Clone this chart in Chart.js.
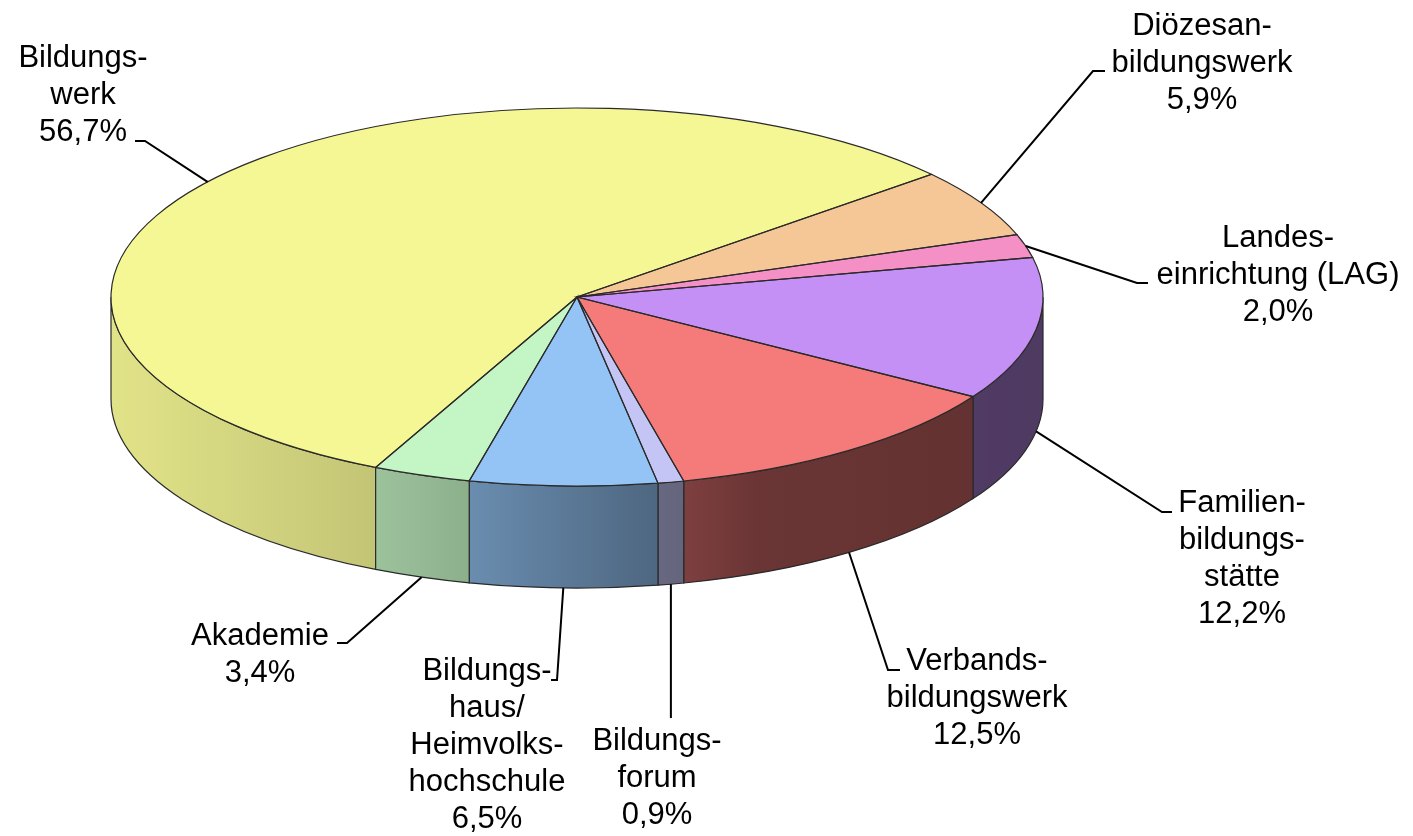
<!DOCTYPE html>
<html><head><meta charset="utf-8">
<script src="https://cdn.jsdelivr.net/npm/chart.js@4/dist/chart.umd.min.js"></script>
<style>html,body{margin:0;padding:0;background:#fff;} canvas{display:block;}</style>
</head><body>
<canvas id="c" width="1413" height="836"></canvas>
<script>
// ---- data ----
const categories = [
  ["Bildungs-","werk"],
  ["Diözesan-","bildungswerk"],
  ["Landes-","einrichtung (LAG)"],
  ["Familien-","bildungs-","stätte"],
  ["Verbands-","bildungswerk"],
  ["Bildungs-","forum"],
  ["Bildungs-","haus/","Heimvolks-","hochschule"],
  ["Akademie"]
];
const shares = [56.7, 5.9, 2.0, 12.2, 12.5, 0.9, 6.5, 3.4];
const sliceColors = ['#F5F794','#F5C696','#F590C6','#C490F5','#F57A7A','#C4C4F5','#94C4F5','#C4F5C4'];

// ---- layout / style ----
const CX = 577, CY = 297, RX = 466, RY = 189, DEPTH = 102;
const FONT = '31px "Liberation Sans", Arial, sans-serif';
const LINE_H = 37;
const labelLayout = [
  {tx:83,   ty:67,  ex:145,  ey:141, hx:135},
  {tx:1202, ty:35,  ex:1093, ey:71,  hx:1105},
  {tx:1278, ty:247, ex:1137, ey:283, hx:1148},
  {tx:1242, ty:512, ex:1162, ey:512, hx:1172},
  {tx:977,  ty:670, ex:888,  ey:670, hx:900},
  {tx:657,  ty:750, ex:null, ey:718, hx:null},
  {tx:487,  ty:680, ex:557,  ey:680, hx:551},
  {tx:260,  ty:645, ex:347,  ey:643, hx:337}
];
const shadeStops = [[0,0.92],[0.28,0.80],[0.30,0.78],[0.38,0.72],[0.58,0.53],[0.62,0.51],[0.70,0.43],[1,0.40]];

function shadeFactor(t){
  t = Math.max(0, Math.min(1, t));
  for (let i = 1; i < shadeStops.length; i++) {
    const [t1,f1] = shadeStops[i-1], [t2,f2] = shadeStops[i];
    if (t <= t2) return f1 + (f2-f1)*(t-t1)/(t2-t1);
  }
  return shadeStops[shadeStops.length-1][1];
}
function shade(hex, f){
  const n = parseInt(hex.slice(1),16);
  const r = Math.round(((n>>16)&255)*f), g = Math.round(((n>>8)&255)*f), b = Math.round((n&255)*f);
  return `rgb(${r},${g},${b})`;
}
function fmt(v){ return v.toFixed(1).replace('.', ',') + '%'; }

const pie3d = {
  id: 'pie3d',
  beforeDatasetsDraw(chart){
    const ctx = chart.ctx;
    const arcs = chart.getDatasetMeta(0).data;
    const colors = chart.data.datasets[0].backgroundColor;
    ctx.save();
    // side walls
    arcs.forEach((arc, i) => {
      const s = arc.startAngle, e = arc.endAngle;
      for (let k = -1; k <= 2; k++) {
        const lo = Math.max(s, 2*Math.PI*k), hi = Math.min(e, 2*Math.PI*k + Math.PI);
        if (hi <= lo) continue;
        const xl = CX + RX*Math.cos(hi), xr = CX + RX*Math.cos(lo);
        const grad = ctx.createLinearGradient(xl, 0, xr, 0);
        const N = 8;
        for (let j = 0; j <= N; j++) {
          const x = xl + (xr-xl)*j/N;
          grad.addColorStop(j/N, shade(colors[i], shadeFactor((x-(CX-RX))/(2*RX))));
        }
        ctx.beginPath();
        ctx.ellipse(CX, CY, RX, RY, 0, lo, hi, false);
        ctx.lineTo(CX + RX*Math.cos(hi), CY + RY*Math.sin(hi) + DEPTH);
        ctx.ellipse(CX, CY + DEPTH, RX, RY, 0, hi, lo, true);
        ctx.closePath();
        ctx.fillStyle = grad;
        ctx.fill();
        ctx.lineWidth = 1.2;
        ctx.strokeStyle = '#2a2a2a';
        ctx.stroke();
      }
    });
    // top faces via the library's arc elements, squashed into an ellipse
    arcs.forEach(arc => {
      const R = arc.outerRadius;
      ctx.save();
      ctx.translate(CX, CY);
      ctx.scale(RX/R, RY/R);
      ctx.translate(-arc.x, -arc.y);
      arc.draw(ctx);
      ctx.restore();
    });
    arcs.forEach(arc => {
      ctx.beginPath();
      ctx.moveTo(CX, CY);
      ctx.ellipse(CX, CY, RX, RY, 0, arc.startAngle, arc.endAngle, false);
      ctx.closePath();
      ctx.lineWidth = 1.2;
      ctx.strokeStyle = '#2a2a2a';
      ctx.stroke();
    });
    // labels + leader lines
    ctx.font = FONT;
    ctx.fillStyle = '#000';
    ctx.textAlign = 'center';
    ctx.textBaseline = 'alphabetic';
    arcs.forEach((arc, i) => {
      const mid = (arc.startAngle + arc.endAngle)/2;
      const front = Math.sin(mid) > 0;
      const ax = CX + RX*Math.cos(mid);
      const ay = CY + RY*Math.sin(mid) + (front ? DEPTH : 0);
      const L = labelLayout[i];
      const ex = L.ex === null ? ax : L.ex;
      const hx = L.hx === null ? ex : L.hx;
      ctx.beginPath();
      ctx.moveTo(ax, ay);
      ctx.lineTo(ex, L.ey);
      ctx.lineTo(hx, L.ey);
      ctx.lineWidth = 2;
      ctx.strokeStyle = '#000';
      ctx.stroke();
      const lines = [...chart.data.labels[i], fmt(chart.data.datasets[0].data[i])];
      lines.forEach((t, j) => ctx.fillText(t, L.tx, L.ty + j*LINE_H));
    });
    ctx.restore();
    return false;
  }
};

new Chart(document.getElementById('c'), {
  type: 'pie',
  data: {
    labels: categories,
    datasets: [{ data: shares, backgroundColor: sliceColors, borderWidth: 0, hoverOffset: 0 }]
  },
  options: {
    responsive: false,
    devicePixelRatio: 1,
    animation: false,
    rotation: 205.6,
    layout: { padding: 20 },
    plugins: { legend: { display: false }, tooltip: { enabled: false } },
    events: []
  },
  plugins: [pie3d]
});
</script>
</body></html>
